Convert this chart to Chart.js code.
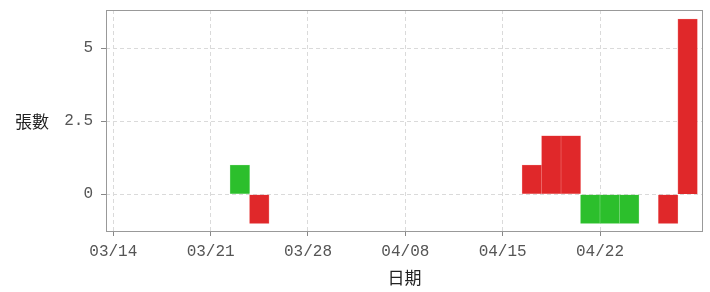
<!DOCTYPE html>
<html>
<head>
<meta charset="utf-8">
<script src="https://cdn.jsdelivr.net/npm/chart.js@4/dist/chart.umd.min.js"></script>
<style>
  body { margin: 0; background: #fff; }
  #wrap { width: 710px; height: 292px; }
</style>
</head>
<body>
<div id="wrap"><canvas id="myChart" width="710" height="292"></canvas></div>
<script>
// trading days, one bar per day
var dates = ['03/14', '03/15', '03/16', '03/17', '03/18',
             '03/21', '03/22', '03/23', '03/24', '03/25',
             '03/28', '03/29', '03/30', '03/31', '04/01',
             '04/08', '04/11', '04/12', '04/13', '04/14',
             '04/15', '04/18', '04/19', '04/20', '04/21',
             '04/22', '04/25', '04/26', '04/27', '04/28'];
var values = [null, null, null, null, null,
              null, 1, -1, null, null,
              null, null, null, null, null,
              null, null, null, null, null,
              null, 1, 2, 2, -1,
              -1, -1, null, -1, 6];
var sides = ['', '', '', '', '',
             '', 'g', 'r', '', '',
             '', '', '', '', '',
             '', '', '', '', '',
             '', 'r', 'r', 'r', 'g',
             'g', 'g', '', 'r', 'r'];
var xTickIdx = [0, 5, 10, 15, 20, 25];
var yTicks = [0, 2.5, 5];

var fillColors = { r: '#e0282a', g: '#2cbf2c', '': '#ffffff' };
var edgeColors = { r: '#ee7070', g: '#7ad87a', '': '#ffffff' };

var points = [];
for (var i = 0; i < values.length; i++) {
  points.push({ x: i + 0.5, y: values[i] });
}

var frame = {
  id: 'frame',
  afterDraw: function(chart) {
    var ctx = chart.ctx;
    var a = chart.chartArea;
    ctx.save();
    ctx.strokeStyle = '#999';
    ctx.lineWidth = 1;
    ctx.strokeRect(a.left + 0.5, a.top + 0.5, a.right - a.left - 1, a.bottom - a.top);
    ctx.fillStyle = '#222';
    ctx.font = '17px "Noto Sans CJK TC"';
    ctx.textAlign = 'center';
    ctx.textBaseline = 'middle';
    ctx.fillText('張數', 32, chart.scales.y.getPixelForValue(2.5));
    ctx.restore();
  }
};

var tickFont = { family: '"Liberation Mono", monospace', size: 16 };

window.onload = function() {
  var ctx = document.getElementById('myChart').getContext('2d');
  new Chart(ctx, {
    type: 'bar',
    data: {
      datasets: [{
        data: points,
        backgroundColor: sides.map(function(s) { return fillColors[s]; }),
        borderColor: sides.map(function(s) { return edgeColors[s]; }),
        borderWidth: 0.6,
        barPercentage: 1,
        categoryPercentage: 1
      }]
    },
    options: {
      responsive: false,
      animation: false,
      layout: { padding: { left: 0, right: 7, top: 10, bottom: 0 } },
      plugins: { legend: { display: false }, tooltip: { enabled: false } },
      scales: {
        x: {
          type: 'linear',
          offset: false,
          min: -0.375,
          max: 30.29,
          afterBuildTicks: function(scale) {
            scale.ticks = xTickIdx.map(function(v) { return { value: v }; });
          },
          afterFit: function(scale) {
            scale.height = 61;
            scale.paddingLeft = 0;
            scale.paddingRight = 0;
          },
          grid: { offset: false, color: '#dadada', tickColor: '#888', tickLength: 5, tickBorderDash: [] },
          border: { display: false, dash: [4, 3] },
          ticks: {
            autoSkip: false,
            maxRotation: 0,
            padding: 6,
            color: '#555',
            font: tickFont,
            callback: function(v) { return dates[v]; }
          },
          title: {
            display: true,
            text: '日期',
            color: '#222',
            font: { family: '"Noto Sans CJK TC"', size: 17 },
            padding: { top: 0, bottom: 4 }
          }
        },
        y: {
          min: -1.26,
          max: 6.31,
          afterBuildTicks: function(scale) {
            scale.ticks = yTicks.map(function(v) { return { value: v }; });
          },
          afterFit: function(scale) {
            scale.width = 106;
            scale.paddingTop = 0;
            scale.paddingBottom = 0;
          },
          grid: { color: '#dadada', tickColor: '#888', tickLength: 5, tickBorderDash: [] },
          border: { display: false, dash: [4, 3] },
          ticks: {
            padding: 8,
            color: '#555',
            font: tickFont,
            callback: function(v) { return String(v); }
          }
        }
      }
    },
    plugins: [frame]
  });
};
</script>
</body>
</html>
